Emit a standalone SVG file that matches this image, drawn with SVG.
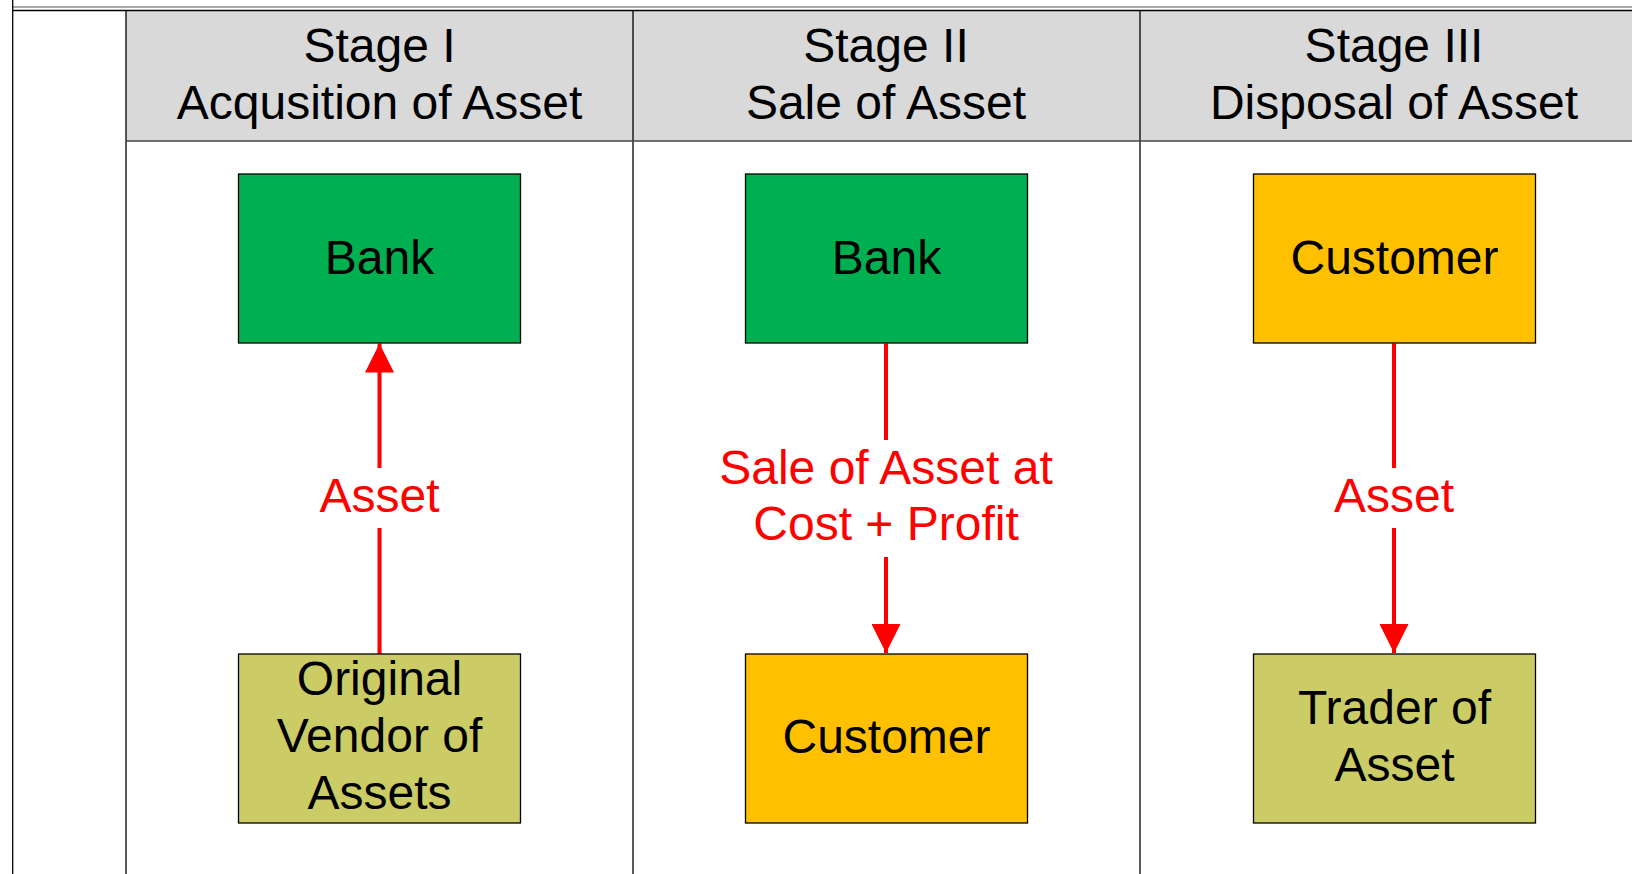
<svg xmlns="http://www.w3.org/2000/svg" width="1632" height="874" viewBox="0 0 1632 874">
<defs>
<marker id="ah" viewBox="0 0 29 29" refX="29" refY="14.5" markerWidth="29" markerHeight="29" markerUnits="userSpaceOnUse" orient="auto">
<path d="M0,0 L29,14.5 L0,29 Z" fill="#FF0000"/>
</marker>
</defs>
<style>
text{font-family:"Liberation Sans",Arial,sans-serif;font-size:48px;text-anchor:middle;fill:#000}
.lbl{fill:#FF0000}
.box{stroke:#000;stroke-width:1.3}
.green{fill:#00B050}
.orange{fill:#FFC000}
.olive{fill:#CCCC66}
.conn{stroke:#FF0000;stroke-width:4;fill:none}
.grid{stroke:#000;stroke-width:1.3;fill:none}
</style>
<rect x="0" y="0" width="1632" height="874" fill="#fff"/>
<g id="frame">
<rect x="126" y="10.5" width="1506" height="130.5" fill="#D9D9D9"/>
<line x1="12" y1="7" x2="1632" y2="7" stroke="#555" stroke-width="1"/>
<line x1="12" y1="10.5" x2="1632" y2="10.5" class="grid"/>
<line x1="12.7" y1="0" x2="12.7" y2="874" class="grid"/>
<line x1="126" y1="10.5" x2="126" y2="874" class="grid"/>
<line x1="633" y1="10.5" x2="633" y2="874" class="grid"/>
<line x1="1140" y1="10.5" x2="1140" y2="874" class="grid"/>
<line x1="126" y1="141" x2="1632" y2="141" stroke="#444" stroke-width="1.3"/>
</g>
<g id="header1"><text x="379.5" y="62">Stage I</text><text x="379.5" y="119">Acqusition of Asset</text></g>
<g id="header2"><text x="886" y="62">Stage II</text><text x="886" y="119">Sale of Asset</text></g>
<g id="header3"><text x="1394" y="62">Stage III</text><text x="1394" y="119">Disposal of Asset</text></g>
<g id="connectors">
<line class="conn" x1="379.5" y1="654" x2="379.5" y2="528"/>
<line class="conn" x1="379.5" y1="468" x2="379.5" y2="343.5" marker-end="url(#ah)"/>
<text class="lbl" x="379.5" y="512">Asset</text>
<line class="conn" x1="886" y1="343.5" x2="886" y2="440"/>
<line class="conn" x1="886" y1="557" x2="886" y2="653" marker-end="url(#ah)"/>
<text class="lbl" x="886" y="484">Sale of Asset at</text>
<text class="lbl" x="886" y="540">Cost + Profit</text>
<line class="conn" x1="1394" y1="343.5" x2="1394" y2="468"/>
<line class="conn" x1="1394" y1="528" x2="1394" y2="653" marker-end="url(#ah)"/>
<text class="lbl" x="1394" y="512">Asset</text>
</g>
<g id="bank1"><rect class="box green" x="238.5" y="174" width="282" height="169"/><text x="379.5" y="274">Bank</text></g>
<g id="vendor"><rect class="box olive" x="238.5" y="654" width="282" height="169"/><text x="379.5" y="695">Original</text><text x="379.5" y="752">Vendor of</text><text x="379.5" y="809">Assets</text></g>
<g id="bank2"><rect class="box green" x="745.5" y="174" width="282" height="169"/><text x="886.5" y="274">Bank</text></g>
<g id="customer2"><rect class="box orange" x="745.5" y="654" width="282" height="169"/><text x="886.5" y="753">Customer</text></g>
<g id="customer3"><rect class="box orange" x="1253.5" y="174" width="282" height="169"/><text x="1394.5" y="274">Customer</text></g>
<g id="trader"><rect class="box olive" x="1253.5" y="654" width="282" height="169"/><text x="1394.5" y="724">Trader of</text><text x="1394.5" y="781">Asset</text></g>
</svg>
